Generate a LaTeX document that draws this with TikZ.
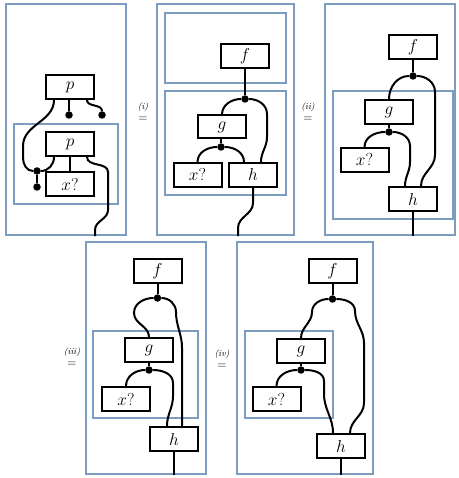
\documentclass[tikz,border=0pt]{standalone}
\definecolor{frameblue}{RGB}{125,157,192}
\tikzset{
  frame/.style={draw=frameblue, line width=2pt},
  fn/.style={draw, line width=2pt, minimum width=48pt, minimum height=24pt, inner sep=0pt, font=\fontsize{16}{18}\selectfont},
  dotnode/.style={circle, fill, inner sep=0pt, minimum size=7.5pt},
  wire/.style={line width=2pt},
  eqtag/.style={font=\fontsize{9}{10}\selectfont\itshape, inner sep=0pt},
  eqsign/.style={font=\fontsize{12}{14}\selectfont, inner sep=0pt}
}
\begin{document}
\begin{tikzpicture}[x=1pt,y=1pt]
\useasboundingbox (0,0) rectangle (458,-478);

% ---------- Panel 1 ----------
\draw[frame] (6,-4) rectangle (126,-235);
\draw[frame] (14,-124) rectangle (118,-204);
\node[fn] (p1) at (70,-87) {$p$};
\node[fn] (p2) at (70,-144) {$p$};
\node[fn] (x1) at (70,-184) {$x?$};
\node[dotnode] (d1a) at (69,-115) {};
\node[dotnode] (d1b) at (102,-115) {};
\node[dotnode] (d1c) at (37,-171) {};
\node[dotnode] (d1d) at (37,-187) {};
\coordinate (o1) at (95,-236);
\draw[wire] (p1.south -| d1a) -- (d1a);
\draw[wire] ([xshift=17pt]p1.south) to[out=-90,in=90] (d1b);
\draw[wire] ([xshift=-16pt]p1.south) to[out=-90,in=90] (23,-146) -- (23,-158) to[out=-90,in=180] (d1c);
\draw[wire] ([xshift=-16pt]p2.south) to[out=-90,in=0] (d1c);
\draw[wire] (d1c) -- (d1d);
\draw[wire] (p2.south) -- (x1.north);
\draw[wire] ([xshift=17pt]p2.south) to[out=-90,in=90] (108,-172) -- (108,-210) to[out=-90,in=90] (95,-230) -- (o1);

\node[eqtag] (t1) at (143,-107) {(i)};
\node[eqsign] (e1) at (143,-119) {$=$};

% ---------- Panel 2 ----------
\draw[frame] (157,-4) rectangle (294,-235);
\draw[frame] (165,-13) rectangle (286,-83);
\draw[frame] (165,-91) rectangle (286,-195);
\node[fn] (f2) at (245,-56) {$f$};
\node[fn, minimum height=23pt] (g2) at (222,-127) {$g$};
\node[fn] (x2) at (197.5,-175) {$x?$};
\node[fn] (h2) at (253,-175) {$h$};
\node[dotnode] (d2a) at (245,-99) {};
\node[dotnode] (d2b) at (221,-147) {};
\coordinate (o2) at (238,-236);
\draw[wire] (f2.south) -- (d2a);
\draw[wire] (d2a) to[out=180,in=90] (g2.north);
\draw[wire] (d2a) to[out=0,in=90] (267,-114) -- (267,-137) to[out=-90,in=90] ([xshift=8pt]h2.north);
\draw[wire] (g2.south -| d2b) -- (d2b);
\draw[wire] (d2b) to[out=180,in=90] (x2.north);
\draw[wire] (d2b) to[out=0,in=90] ([xshift=-9pt]h2.north);
\draw[wire] (h2.south) -- (253,-203) to[out=-90,in=90] (238,-228) -- (o2);

\node[eqtag] (t2) at (308,-107) {(ii)};
\node[eqsign] (e2) at (308,-119) {$=$};

% ---------- Panel 3 ----------
\draw[frame] (325,-4) rectangle (455,-235);
\draw[frame] (333,-91) rectangle (453,-219);
\node[fn] (f3) at (413,-47) {$f$};
\node[fn] (g3) at (389,-112) {$g$};
\node[fn] (x3) at (364.5,-160) {$x?$};
\node[fn] (h3) at (413,-199) {$h$};
\node[dotnode] (d3a) at (413,-76) {};
\node[dotnode] (d3b) at (389,-132) {};
\coordinate (o3) at (413,-236);
\draw[wire] (f3.south) -- (d3a);
\draw[wire] (d3a) to[out=180,in=90] (g3.north);
\draw[wire] (d3a) to[out=0,in=90] (435,-92) -- (435,-155) to[out=-90,in=90] ([xshift=8pt]h3.north);
\draw[wire] (g3.south) -- (d3b);
\draw[wire] (d3b) to[out=180,in=90] (x3.north);
\draw[wire] (d3b) to[out=0,in=90] (410,-146) -- (410,-162) to[out=-90,in=90] ([xshift=-8pt]h3.north);
\draw[wire] (h3.south) -- (o3);

% ---------- Panel 4 ----------
\node[eqtag] (t3) at (72,-352) {(iii)};
\node[eqsign] (e3) at (72,-364) {$=$};
\draw[frame] (86,-242) rectangle (206,-474);
\draw[frame] (93,-331) rectangle (198,-418);
\node[fn] (f4) at (157.5,-271) {$f$};
\node[fn] (g4) at (149,-350) {$g$};
\node[fn] (x4) at (126,-399) {$x?$};
\node[fn] (h4) at (174,-439) {$h$};
\node[dotnode] (d4a) at (157.5,-298) {};
\node[dotnode] (d4b) at (149,-370) {};
\coordinate (o4) at (174,-475);
\draw[wire] (f4.south) -- (d4a);
\draw[wire] (d4a) to[out=180,in=90] (134,-313) to[out=-90,in=90] (g4.north);
\draw[wire] (d4a) to[out=0,in=90] (176,-312) to[out=-90,in=90] (182,-348) -- ([xshift=8pt]h4.north);
\draw[wire] (g4.south) -- (d4b);
\draw[wire] (d4b) to[out=180,in=90] (x4.north);
\draw[wire] (d4b) to[out=0,in=90] (173,-383) -- (173,-396) to[out=-90,in=90] ([xshift=-7pt]h4.north);
\draw[wire] (h4.south) -- (o4);

% ---------- Panel 5 ----------
\node[eqtag] (t4) at (222,-354) {(iv)};
\node[eqsign] (e4) at (222,-366) {$=$};
\draw[frame] (237,-242) rectangle (373,-474);
\draw[frame] (245,-331) rectangle (333,-418);
\node[fn] (f5) at (332.5,-271) {$f$};
\node[fn] (g5) at (301,-351) {$g$};
\node[fn] (x5) at (276.5,-399) {$x?$};
\node[fn] (h5) at (341,-446) {$h$};
\node[dotnode] (d5a) at (332.5,-299) {};
\node[dotnode] (d5b) at (301,-370) {};
\coordinate (o5) at (341,-475);
\draw[wire] (f5.south) -- (d5a);
\draw[wire] (d5a) to[out=180,in=90] (312,-312) to[out=-90,in=90] (g5.north);
\draw[wire] (d5a) to[out=0,in=90] (355,-311) to[out=-90,in=90] (364,-343) -- (364,-403) to[out=-90,in=90] ([xshift=9pt]h5.north);
\draw[wire] (g5.south) -- (d5b);
\draw[wire] (d5b) to[out=180,in=90] (x5.north);
\draw[wire] (d5b) to[out=0,in=90] (324,-381) -- (324,-394) to[out=-90,in=90] ([xshift=-8pt]h5.north);
\draw[wire] (h5.south) -- (o5);
\end{tikzpicture}
\end{document}
